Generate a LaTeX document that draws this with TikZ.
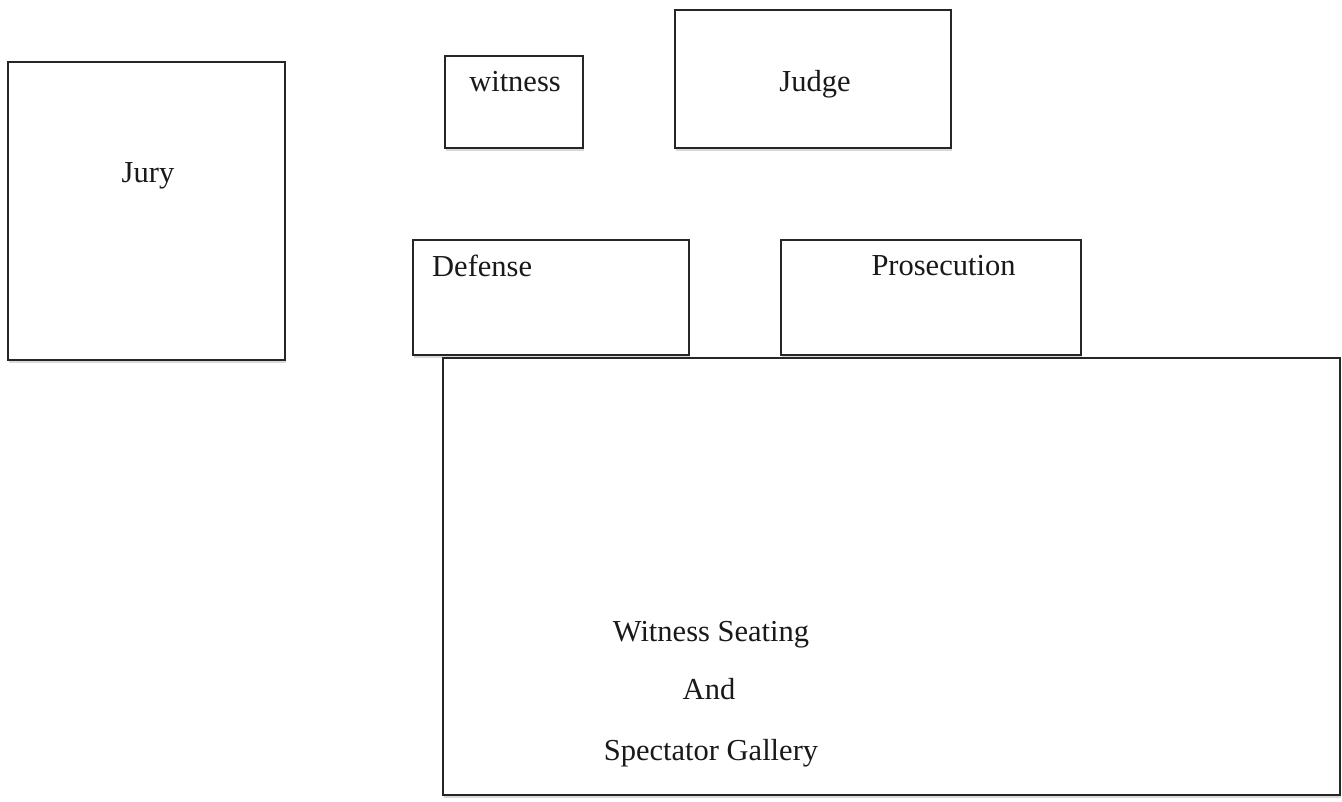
\documentclass[tikz,border=0pt]{standalone}
\usepackage{fontspec}
\setmainfont{Liberation Serif}
\usetikzlibrary{shadows}
\begin{document}
\begin{tikzpicture}[x=1pt,y=1pt,
  box/.style={draw=black!85, line width=1.8pt, fill=white, rectangle, inner sep=0pt,
    drop shadow={shadow xshift=0.5pt, shadow yshift=-3pt, opacity=0.15, fill=black}},
  lbl/.style={anchor=base, inner sep=0pt, font=\fontsize{30.5}{36}\selectfont, text=black!90}]
\useasboundingbox (0,0) rectangle (1342,802);
\fill[white] (0,0) rectangle (1342,802);
% boxes (centres in px with y flipped)
\node[box, minimum width=277pt, minimum height=298pt] (jury) at (146.5,591) {};
\node[box, minimum width=138pt, minimum height=92pt] (witness) at (514,700) {};
\node[box, minimum width=276pt, minimum height=138pt] (judge) at (813,723) {};
\node[box, minimum width=276pt, minimum height=115pt] (defense) at (551,504.5) {};
\node[box, minimum width=300pt, minimum height=115pt] (prosecution) at (931,504.5) {};
\node[box, minimum width=897pt, minimum height=437pt] (gallery) at (891.5,225.5) {};
% labels
\node[lbl] (juryt) at (148,619) {Jury};
\node[lbl] (witnesst) at (515,710) {witness};
\node[lbl] (judget) at (815,710) {Judge};
\node[lbl, anchor=base west] (defenset) at (432,525) {Defense};
\node[lbl] (prosecutiont) at (943.5,526) {Prosecution};
\node[lbl] (galleryt1) at (711,160) {Witness Seating};
\node[lbl] (galleryt2) at (709,102) {And};
\node[lbl] (galleryt3) at (711,41) {Spectator Gallery};
\end{tikzpicture}
\end{document}
